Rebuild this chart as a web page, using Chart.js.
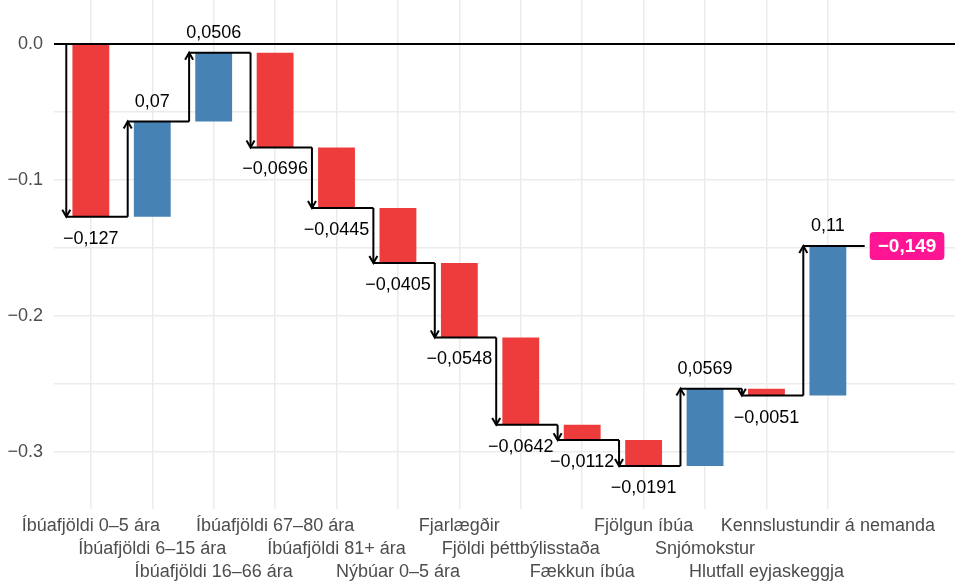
<!DOCTYPE html>
<html>
<head>
<meta charset="utf-8">
<script src="https://cdn.jsdelivr.net/npm/chart.js@4.4.1/dist/chart.umd.min.js"></script>
<style>
  html, body { margin: 0; padding: 0; background: #fff; }
  #wrap { width: 955px; height: 583px; }
</style>
</head>
<body>
<div id="wrap"><canvas id="chart" width="955" height="583"></canvas></div>
<script>
// waterfall data
const categories = [
  'Íbúafjöldi 0–5 ára', 'Íbúafjöldi 6–15 ára', 'Íbúafjöldi 16–66 ára',
  'Íbúafjöldi 67–80 ára', 'Íbúafjöldi 81+ ára', 'Nýbúar 0–5 ára',
  'Fjarlægðir', 'Fjöldi þéttbýlisstaða', 'Fækkun íbúa', 'Fjölgun íbúa',
  'Snjómokstur', 'Hlutfall eyjaskeggja', 'Kennslustundir á nemanda'
];
const changes = [-0.127, 0.07, 0.0506, -0.0696, -0.0445, -0.0405, -0.0548, -0.0642, -0.0112, -0.0191, 0.0569, -0.0051, 0.11];
const totalLabel = '−0,149';
const yTicks = [0, -0.05, -0.1, -0.15, -0.2, -0.25, -0.3];

const FONT = '"Liberation Sans", Arial, sans-serif';
const RED = '#EE3B3B';
const BLUE = '#4682B4';

const starts = [];
const ends = [];
let run = 0;
changes.forEach(v => { starts.push(run); run += v; ends.push(run); });

const fmt = v => String(v).replace('.', ',').replace('-', '−');

function arrowLine(ctx, x, y0, y1) {
  ctx.beginPath();
  ctx.moveTo(x, y0);
  ctx.lineTo(x, y1);
  ctx.stroke();
  const dir = y1 > y0 ? 1 : -1;
  const L = 8, a = Math.PI / 6;
  ctx.beginPath();
  ctx.moveTo(x - L * Math.sin(a), y1 - dir * L * Math.cos(a));
  ctx.lineTo(x, y1);
  ctx.lineTo(x + L * Math.sin(a), y1 - dir * L * Math.cos(a));
  ctx.stroke();
}

const waterfallPlugin = {
  id: 'waterfall',
  afterDatasetsDraw(chart) {
    const { ctx, chartArea, scales: { x, y } } = chart;
    ctx.save();
    ctx.strokeStyle = '#000';
    ctx.lineWidth = 2;
    ctx.lineCap = 'butt';
    ctx.lineJoin = 'miter';

    const zy = y.getPixelForValue(0);
    ctx.beginPath();
    ctx.moveTo(chartArea.left, zy);
    ctx.lineTo(chartArea.right, zy);
    ctx.stroke();

    ctx.font = '18px ' + FONT;
    ctx.textAlign = 'center';
    ctx.textBaseline = 'middle';
    ctx.fillStyle = '#000';

    changes.forEach((v, i) => {
      const ax = x.getPixelForValue(i + 1 - 0.4);
      const nx = x.getPixelForValue(i + 2 - 0.4);
      const y0 = y.getPixelForValue(starts[i]);
      const y1 = y.getPixelForValue(ends[i]);
      arrowLine(ctx, ax, y0, y1);
      ctx.beginPath();
      ctx.moveTo(ax, y1);
      ctx.lineTo(nx, y1);
      ctx.stroke();
      ctx.fillText(fmt(v), x.getPixelForValue(i + 1), y1 + (v < 0 ? 22 : -20));
    });

    // total label box
    const ey = y.getPixelForValue(ends[ends.length - 1]);
    const bx = x.getPixelForValue(changes.length + 0.6) + 5;
    ctx.font = 'bold 19px ' + FONT;
    const tw = ctx.measureText(totalLabel).width;
    const bw = tw + 16, bh = 28;
    ctx.fillStyle = '#FF1493';
    ctx.beginPath();
    ctx.roundRect(bx, ey - bh / 2, bw, bh, 4);
    ctx.fill();
    ctx.fillStyle = '#fff';
    ctx.textAlign = 'left';
    ctx.fillText(totalLabel, bx + 8, ey + 1);
    ctx.restore();
  }
};

const ctx = document.getElementById('chart').getContext('2d');
new Chart(ctx, {
  type: 'bar',
  data: {
    datasets: [{
      data: changes.map((v, i) => ({ x: i + 1, y: [starts[i], ends[i]] })),
      backgroundColor: changes.map(v => v < 0 ? RED : BLUE),
      borderWidth: 0,
      barPercentage: 0.6,
      categoryPercentage: 1
    }]
  },
  options: {
    responsive: false,
    animation: false,
    layout: { padding: 0 },
    plugins: { legend: { display: false }, tooltip: { enabled: false } },
    scales: {
      x: {
        type: 'linear',
        min: 0.4,
        max: 15.07,
        offset: false,
        afterBuildTicks: s => { s.ticks = categories.map((c, i) => ({ value: i + 1 })); },
        afterFit: s => { s.height = 74; s.paddingLeft = 0; s.paddingRight = 0; },
        grid: { color: '#ebebeb', lineWidth: 1.5, drawTicks: false, offset: false },
        border: { display: false },
        ticks: {
          autoSkip: false,
          maxRotation: 0,
          minRotation: 0,
          padding: 6,
          color: '#4d4d4d',
          font: { family: FONT, size: 18, lineHeight: 23 / 18 },
          callback: v => {
            const i = Math.round(v) - 1;
            const lines = [];
            for (let k = 0; k < i % 3; k++) lines.push('');
            lines.push(categories[i]);
            return lines;
          }
        }
      },
      y: {
        min: -0.3419,
        max: 0.0324,
        afterBuildTicks: s => { s.ticks = yTicks.map(v => ({ value: v })); },
        afterFit: s => { s.width = 54; s.paddingTop = 0; s.paddingBottom = 0; },
        grid: { color: '#ebebeb', lineWidth: 1.5, drawTicks: false },
        border: { display: false },
        ticks: {
          padding: 11,
          color: '#4d4d4d',
          font: { family: FONT, size: 18 },
          callback: v => Math.abs(v * 10 - Math.round(v * 10)) < 1e-9 ? v.toFixed(1).replace('-', '−') : ''
        }
      }
    }
  },
  plugins: [waterfallPlugin]
});
</script>
</body>
</html>
